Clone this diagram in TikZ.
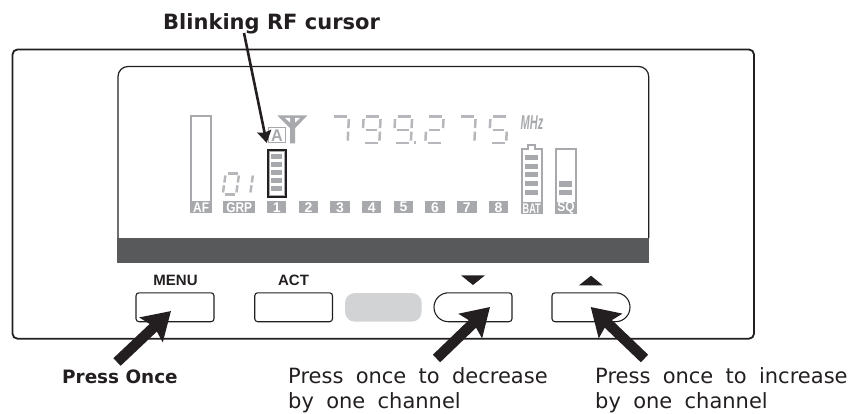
\documentclass[tikz,border=0pt]{standalone}
\usepackage{fontspec}
\setmainfont{DejaVu Sans}
\newfontfamily\arialf{Liberation Sans}
\usetikzlibrary{arrows.meta}
\definecolor{ink}{HTML}{231F20}
\definecolor{lcd}{HTML}{A7A9AC}
\definecolor{seg}{HTML}{B5B7BA}
\definecolor{band}{HTML}{58595B}
\definecolor{pill}{HTML}{D1D3D4}
\newcommand{\wg}[1]{{\spaceskip 12.3pt\relax #1}}
\tikzset{
  x=1pt,y=-1pt,
  lcdline/.style={draw=lcd,line width=2pt},
  lcdseg/.style={draw=seg,line width=2.5pt},
  tag/.style={fill=lcd,inner sep=0pt,text=white,font=\arialf\bfseries\fontsize{14}{14}\selectfont,minimum height=12.3pt},
  btn/.style={draw=ink,line width=1.1pt,fill=white,rounded corners=3pt},
  btnlabel/.style={font=\arialf\bfseries\fontsize{15}{15}\selectfont,text=ink,inner sep=0pt},
  capt/.style={font=\fontsize{21}{21}\selectfont,text=ink,inner sep=0pt,anchor=base west},
  boldcap/.style={text=ink,inner sep=0pt,anchor=base west},
  fatarrow/.style={draw=ink,line width=10.5pt,-{Stealth[length=27pt,width=33pt,inset=4pt]}},
  thinarrow/.style={draw=ink,line width=2.6pt,-{Stealth[length=12pt,width=14pt,inset=1.5pt]}},
}
\def\sA{(3.5,1)--(16.5,1)}
\def\sB{(18,3.5)--(18,12.5)}
\def\sC{(18,16)--(18,25)}
\def\sD{(3.5,27.5)--(16.5,27.5)}
\def\sE{(1,16)--(1,25)}
\def\sF{(1,3.5)--(1,12.5)}
\def\sG{(4,14.2)--(15.5,14.2)}
\newcommand{\lcddigit}[5]{%
  \begin{scope}[shift={(#1,#2)},xslant=#3,scale=#4]
    \foreach \s in {#5}{\draw[lcdseg] \s;}
  \end{scope}}
\begin{document}
\begin{tikzpicture}
\useasboundingbox (0,0) rectangle (850,414);
% housing
\draw[draw=ink,line width=1.8pt,rounded corners=5pt] (12.5,49.5) rectangle (754,338.7);
% LCD window
\draw[draw=ink,line width=1.2pt,rounded corners=10pt] (118,238) -- (118,66.5) -- (648.7,66.5) -- (648.7,238);
\fill[band] (117.4,238) rectangle (649.3,263);
% AF meter
\draw[lcdline] (191,116) rectangle (211.3,212);
\node[tag,minimum width=22.3pt] (af) at (201.1,207.2) {\scalebox{0.85}[1]{AF}};
% GRP
\node[tag,minimum width=31.7pt] (grp) at (239.2,207.2) {\scalebox{0.85}[1]{GRP}};
\lcddigit{225}{172.7}{0.14}{0.79}{\sA,\sB,\sC,\sD,\sE,\sF}
\lcddigit{239}{172.7}{0.14}{0.79}{\sB,\sC}
% channel tags
\foreach \n/\x in {1/276.7,2/308.4,3/340,4/371.7,5/403.4,6/435.1,7/466.8,8/498.6}{
  \node[tag,minimum width=19.4pt] (ch\n) at (\x,207.2) {\n};
}
% A indicator and antenna
\draw[draw=lcd,line width=1.5pt] (268.7,127.4) rectangle (285.3,142.6);
\node[inner sep=0pt,text=lcd,font=\arialf\bfseries\fontsize{17}{17}\selectfont] (ind) at (277,135.3) {\scalebox{0.95}[1]{A}};
\fill[lcd] (277.3,115.5) -- (307.3,115.5) -- (295.2,128) -- (295.2,143.5) -- (290,143.5) -- (290,128) -- cycle;
\fill[white] (285,118) -- (290,118) -- (290,122.5) -- cycle;
\fill[white] (295.2,118) -- (300,118) -- (295.2,122.5) -- cycle;
% RF meter
\draw[draw=lcd,line width=1.2pt] (269.3,151) rectangle (284.2,195.2);
\foreach \y in {154.3,162.3,170.2,178.2,186}{
  \fill[lcd] (271.2,\y) rectangle (282.3,\y+4.7);
}
\draw[draw=ink,line width=2.2pt] (267.7,149.7) rectangle (285.7,196.6);
% frequency digits
\lcddigit{331}{115.6}{0.05}{1}{\sA,\sB,\sC}
\lcddigit{362.7}{115.6}{0.05}{1}{\sA,\sB,\sC,\sD,\sF,\sG}
\lcddigit{394.2}{115.6}{0.05}{1}{\sA,\sB,\sC,\sD,\sF,\sG}
\fill[seg] (414.2,141.5) rectangle (416.2,144);
\lcddigit{425.7}{115.6}{0.05}{1}{\sA,\sB,\sD,\sE,\sG}
\lcddigit{457.7}{115.6}{0.05}{1}{\sA,\sB,\sC}
\lcddigit{489.5}{115.6}{0.05}{1}{\sA,\sC,\sD,\sF,\sG}
\node[inner sep=0pt,text=lcd,font=\arialf\bfseries\itshape\fontsize{20}{20}\selectfont] (mhz) at (532,123) {\scalebox{0.55}[1]{MHz}};
% battery
\draw[lcdline] (521.7,149.3) -- (527.8,149.3) -- (527.8,145) -- (535.2,145) -- (535.2,149.3) -- (541.7,149.3) -- (541.7,213) -- (521.7,213) -- cycle;
\foreach \y in {155,163.7,172.3,181,189.7}{
  \fill[lcd] (525.3,\y) rectangle (538,\y+5);
}
\node[tag,minimum width=22pt] (bat) at (531.7,208.2) {\scalebox{0.65}[1]{BAT}};
% squelch
\draw[lcdline] (556,149.3) rectangle (575.7,213);
\fill[lcd] (559.3,181.3) rectangle (572,186.7);
\fill[lcd] (559.3,189.7) rectangle (572,195);
\node[tag,minimum width=21.7pt] (sq) at (565.9,208.2) {\scalebox{0.85}[1]{SQ}};
% buttons
\node[btnlabel] (menulabel) at (175.5,280.2) {MENU};
\node[btnlabel] (actlabel) at (293.5,280.2) {ACT};
\draw[btn] (136,292.8) rectangle (214,321.7);
\draw[btn] (254.7,292.8) rectangle (332.5,321.7);
\fill[pill,rounded corners=10pt] (345,293) rectangle (421.7,321.7);
\draw[btn] (470,321.7) [rounded corners=14.4pt] -- (434,321.7) -- (434,292.8) [rounded corners=3pt] -- (512,292.8) -- (512,321.7) -- cycle;
\draw[btn] (590,292.8) [rounded corners=14.4pt] -- (630,292.8) -- (630,321.7) [rounded corners=3pt] -- (552,321.7) -- (552,292.8) -- cycle;
\fill[ink] (461,275.3) -- (485,275.3) -- (473,285) -- cycle;
\fill[ink] (579,285.3) -- (602.7,285.3) -- (591,275.7) -- cycle;
% captions
\node[boldcap,font=\bfseries\fontsize{21}{21}\selectfont] (blink) at (163,29.3) {Blinking RF cursor};
\node[boldcap,font=\bfseries\fontsize{18.4}{18.4}\selectfont] (once) at (62,383) {Press Once};
\node[capt] (dec1) at (288,383.3) {\wg{Press once to decrease}};
\node[capt] (dec2) at (288,408.6) {\wg{by one channel}};
\node[capt] (inc1) at (595,383.3) {\wg{Press once to increase}};
\node[capt] (inc2) at (595,408.6) {\wg{by one channel}};
% arrows
\coordinate (tipRF) at (266.7,143);
\coordinate (tailRF) at (244,33);
\coordinate (tailMenu) at (117,362);
\coordinate (tipMenu) at (171,311);
\coordinate (tailDown) at (436.5,358.5);
\coordinate (tipDown) at (490,307);
\coordinate (tailUp) at (644.5,358.5);
\coordinate (tipUp) at (590.7,307);
\draw[thinarrow] (tailRF) -- (tipRF);
\draw[fatarrow] (tailMenu) -- (tipMenu);
\draw[fatarrow] (tailDown) -- (tipDown);
\draw[fatarrow] (tailUp) -- (tipUp);
\end{tikzpicture}
\end{document}
